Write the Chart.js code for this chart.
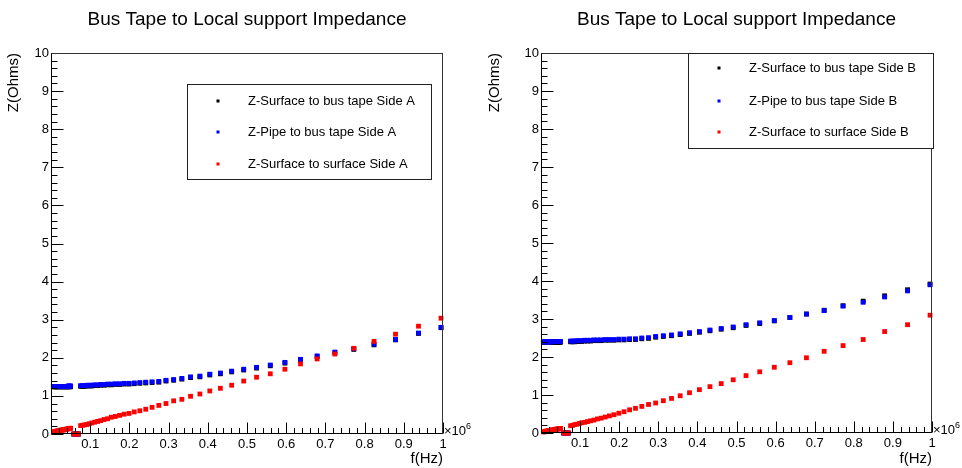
<!DOCTYPE html>
<html>
<head>
<meta charset="utf-8">
<script src="https://cdn.jsdelivr.net/npm/chart.js@4.4.0/dist/chart.umd.min.js"></script>
<style>
  html, body { margin: 0; padding: 0; background: #fff; }
  #wrap { position: relative; width: 962px; height: 468px; }
  .pane { position: absolute; top: 0; width: 481px; height: 468px; }
</style>
</head>
<body>
<div id="wrap">
  <div class="pane" style="left:0"><canvas id="chartA" width="481" height="468"></canvas></div>
  <div class="pane" style="left:481px"><canvas id="chartB" width="481" height="468"></canvas></div>
</div>
<script>
const chartTitle = 'Bus Tape to Local support Impedance';
const xTitle = 'f(Hz)';
const yTitle = 'Z(Ohms)';

// frequency points, in units of 10^6 Hz
const freqMHz = [
  0.006, 0.008, 0.010, 0.012, 0.014, 0.016, 0.018, 0.020, 0.022, 0.024, 0.026, 0.028,
  0.030, 0.032, 0.034, 0.036, 0.038, 0.040, 0.042, 0.044, 0.046, 0.048, 0.050,
  0.058, 0.062, 0.066, 0.070,
  0.0756, 0.0807, 0.0860, 0.0918, 0.0979, 0.1044, 0.1114, 0.1188, 0.1267, 0.1352,
  0.1442, 0.1538, 0.1641, 0.1750, 0.1867, 0.1991, 0.2124, 0.2266, 0.2417, 0.2578,
  0.2750, 0.2933, 0.3129, 0.3338, 0.3560, 0.3798, 0.4051, 0.4321, 0.4609, 0.4916,
  0.5244, 0.5594, 0.5967, 0.6365, 0.6789, 0.7242, 0.7725, 0.8240, 0.8789, 0.9375, 0.995
];

// Side A
const surfBusA = [
  1.24, 1.24, 1.24, 1.24, 1.24, 1.24, 1.24, 1.24, 1.24, 1.24, 1.24, 1.24,
  1.24, 1.24, 1.24, 1.24, 1.24, 1.24, 1.24, 1.24, 1.24, 1.24, 1.24,
  0, 0, 0, 0,
  1.25, 1.25, 1.25, 1.26, 1.26, 1.26, 1.27, 1.27, 1.28, 1.28,
  1.29, 1.29, 1.30, 1.30, 1.31, 1.31, 1.32, 1.33, 1.34, 1.35,
  1.36, 1.39, 1.41, 1.44, 1.48, 1.50, 1.55, 1.58, 1.63, 1.68,
  1.73, 1.79, 1.86, 1.94, 2.03, 2.13, 2.22, 2.34, 2.47, 2.64, 2.79
];
const pipeBusA = [
  1.25, 1.25, 1.25, 1.25, 1.25, 1.25, 1.25, 1.25, 1.25, 1.25, 1.25, 1.25,
  1.25, 1.25, 1.25, 1.25, 1.25, 1.25, 1.25, 1.26, 1.26, 1.26, 1.26,
  0, 0, 0, 0,
  1.27, 1.27, 1.27, 1.28, 1.28, 1.28, 1.29, 1.29, 1.30, 1.30,
  1.31, 1.31, 1.32, 1.32, 1.33, 1.33, 1.34, 1.35, 1.36, 1.37,
  1.38, 1.41, 1.43, 1.46, 1.50, 1.52, 1.57, 1.60, 1.65, 1.70,
  1.75, 1.81, 1.88, 1.96, 2.05, 2.15, 2.24, 2.36, 2.48, 2.65, 2.80
];
const surfSurfA = [
  0.05, 0.06, 0.06, 0.07, 0.07, 0.08, 0.08, 0.09, 0.09, 0.10, 0.10, 0.10,
  0.11, 0.11, 0.11, 0.12, 0.12, 0.13, 0.13, 0.14, 0.14, 0.15, 0.15,
  0, 0, 0, 0,
  0.22, 0.23, 0.24, 0.25, 0.27, 0.29, 0.31, 0.33, 0.35, 0.38,
  0.40, 0.44, 0.46, 0.49, 0.52, 0.54, 0.58, 0.61, 0.65, 0.70,
  0.75, 0.80, 0.87, 0.91, 0.99, 1.05, 1.13, 1.20, 1.28, 1.39,
  1.49, 1.58, 1.70, 1.84, 1.97, 2.10, 2.25, 2.43, 2.62, 2.83, 3.04
];

// Side B
const surfBusB = [
  2.39, 2.39, 2.39, 2.39, 2.39, 2.39, 2.39, 2.39, 2.39, 2.39, 2.39, 2.39,
  2.39, 2.39, 2.39, 2.39, 2.39, 2.39, 2.39, 2.39, 2.39, 2.39, 2.39,
  0, 0, 0, 0,
  2.40, 2.40, 2.40, 2.41, 2.41, 2.41, 2.42, 2.42, 2.42, 2.43,
  2.43, 2.43, 2.44, 2.44, 2.44, 2.45, 2.45, 2.46, 2.46, 2.48,
  2.49, 2.52, 2.54, 2.56, 2.59, 2.62, 2.65, 2.69, 2.73, 2.77,
  2.83, 2.88, 2.95, 3.04, 3.13, 3.23, 3.35, 3.47, 3.61, 3.77, 3.92
];
const pipeBusB = [
  2.40, 2.40, 2.40, 2.40, 2.40, 2.40, 2.40, 2.40, 2.40, 2.40, 2.40, 2.40,
  2.41, 2.41, 2.41, 2.41, 2.41, 2.41, 2.41, 2.41, 2.41, 2.41, 2.41,
  0, 0, 0, 0,
  2.42, 2.42, 2.42, 2.43, 2.43, 2.43, 2.44, 2.44, 2.44, 2.45,
  2.45, 2.45, 2.46, 2.46, 2.46, 2.47, 2.47, 2.48, 2.48, 2.50,
  2.51, 2.54, 2.56, 2.58, 2.61, 2.64, 2.67, 2.71, 2.75, 2.79,
  2.85, 2.90, 2.96, 3.04, 3.13, 3.22, 3.34, 3.44, 3.58, 3.74, 3.90
];
const surfSurfB = [
  0.03, 0.03, 0.04, 0.04, 0.05, 0.05, 0.06, 0.06, 0.06, 0.07, 0.07, 0.08,
  0.08, 0.08, 0.09, 0.09, 0.10, 0.10, 0.10, 0.11, 0.11, 0.12, 0.12,
  0, 0, 0, 0,
  0.19, 0.20, 0.22, 0.23, 0.25, 0.27, 0.28, 0.30, 0.32, 0.34,
  0.37, 0.39, 0.42, 0.45, 0.48, 0.52, 0.56, 0.61, 0.65, 0.70,
  0.75, 0.79, 0.85, 0.91, 0.98, 1.06, 1.14, 1.22, 1.30, 1.40,
  1.51, 1.61, 1.73, 1.85, 1.98, 2.15, 2.30, 2.46, 2.67, 2.85, 3.10
];

const seriesColors = ['#000000', '#0000ff', '#ff0000'];
const namesA = ['Z-Surface to bus tape Side A', 'Z-Pipe to bus tape Side A', 'Z-Surface to surface Side A'];
const namesB = ['Z-Surface to bus tape Side B', 'Z-Pipe to bus tape Side B', 'Z-Surface to surface Side B'];

const FONT = '"Liberation Sans", Arial, Helvetica, sans-serif';

const toPoints = vals => freqMHz.map((f, i) => ({ x: f, y: vals[i] }));

// ROOT-like frame, inward ticks, title, exponent and legend box
const rootStyle = {
  id: 'rootStyle',
  afterDatasetsDraw(chart, args, opts) {
    const { ctx, chartArea: a } = chart;
    const xs = chart.scales.x, ys = chart.scales.y;
    const L = Math.round(a.left) + 0.5, R = Math.round(a.right) - 0.5;
    const T = Math.round(a.top) + 0.5, B = Math.round(a.bottom) - 0.5;
    ctx.save();
    ctx.lineWidth = 1;

    // ticks on y axis
    ctx.strokeStyle = '#000';
    ctx.beginPath();
    for (let i = 0; i <= 50; i++) {
      const py = Math.round(ys.getPixelForValue(i / 5)) + 0.5;
      const len = i % 5 === 0 ? 12 : 6;
      ctx.moveTo(L, py);
      ctx.lineTo(L + len, py);
    }
    // ticks on x axis
    for (let i = 0; i <= 50; i++) {
      const px = Math.round(xs.getPixelForValue(i / 50)) + 0.5;
      const len = i % 5 === 0 ? 11 : 5.5;
      ctx.moveTo(px, B);
      ctx.lineTo(px, B - len);
    }
    ctx.stroke();

    // frame
    ctx.strokeStyle = '#333';
    ctx.strokeRect(L, T, R - L, B - T);
    ctx.strokeStyle = '#000';
    ctx.beginPath();
    ctx.moveTo(L, T); ctx.lineTo(L, B); ctx.lineTo(R, B);
    ctx.stroke();

    // title
    ctx.fillStyle = '#000';
    ctx.font = '19px ' + FONT;
    ctx.textAlign = 'center';
    ctx.textBaseline = 'middle';
    ctx.fillText(chartTitle, (a.left + a.right) / 2, 20);

    // x10^6 exponent
    ctx.textAlign = 'left';
    ctx.textBaseline = 'alphabetic';
    ctx.font = '13px ' + FONT;
    ctx.fillText('\u00d710', a.right + 1, a.bottom + 1);
    const w = ctx.measureText('\u00d710').width;
    ctx.font = '9px ' + FONT;
    ctx.fillText('6', a.right + 1 + w, a.bottom - 5);

    // legend box
    const lg = opts.legend;
    ctx.fillStyle = '#fff';
    ctx.fillRect(lg.x, lg.y, lg.w, lg.h);
    ctx.strokeStyle = '#222';
    ctx.strokeRect(lg.x + 0.5, lg.y + 0.5, lg.w, lg.h);
    ctx.font = '13px ' + FONT;
    ctx.textBaseline = 'middle';
    chart.data.datasets.forEach((ds, i) => {
      const ry = lg.y + lg.rows[i];
      ctx.fillStyle = ds.backgroundColor;
      ctx.fillRect(lg.x + lg.markerX - 1.5, ry - 1.5, 3, 3);
      ctx.fillStyle = '#000';
      ctx.fillText(ds.label, lg.x + lg.textX, ry);
    });
    ctx.restore();
  }
};

function makeChart(id, names, series, geom) {
  return new Chart(document.getElementById(id), {
    type: 'scatter',
    data: {
      datasets: series.map((vals, i) => ({
        label: names[i],
        data: toPoints(vals),
        backgroundColor: seriesColors[i],
        borderWidth: 0,
        pointStyle: 'rect',
        pointRadius: 3.4,
        pointHoverRadius: 3.4,
        clip: false,
        order: 2 - i
      }))
    },
    options: {
      responsive: false,
      animation: false,
      events: [],
      layout: { padding: { top: 53, right: geom.padRight, left: 0, bottom: 0 } },
      plugins: {
        legend: { display: false },
        tooltip: { enabled: false },
        title: { display: false },
        rootStyle: { legend: geom.legend }
      },
      scales: {
        x: {
          type: 'linear',
          min: 0,
          max: 1,
          grid: { display: false, drawTicks: false },
          border: { display: false },
          ticks: {
            stepSize: 0.1,
            padding: 3,
            maxRotation: 0,
            color: '#000',
            font: { family: FONT, size: 13 },
            callback: v => (v === 0 ? '' : String(+v.toFixed(1)))
          },
          title: {
            display: true,
            text: xTitle,
            align: 'end',
            color: '#000',
            font: { family: FONT, size: 15 },
            padding: { top: 0, bottom: 0 }
          },
          afterFit: s => { s.height = geom.xHeight; }
        },
        y: {
          type: 'linear',
          min: 0,
          max: 10,
          grid: { display: false, drawTicks: false },
          border: { display: false },
          ticks: {
            stepSize: 1,
            padding: 2,
            color: '#000',
            font: { family: FONT, size: 13 }
          },
          title: {
            display: true,
            text: yTitle,
            align: 'end',
            color: '#000',
            font: { family: FONT, size: 15 },
            padding: { top: 5, bottom: 0 }
          },
          afterFit: s => { s.width = geom.yWidth; }
        }
      }
    },
    plugins: [rootStyle]
  });
}

makeChart('chartA', namesA, [surfBusA, pipeBusA, surfSurfA], {
  yWidth: 51, xHeight: 34, padRight: 38,
  legend: { x: 187, y: 84, w: 244, h: 95, markerX: 31, textX: 61, rows: [17, 48, 80] }
});
makeChart('chartB', namesB, [surfBusB, pipeBusB, surfSurfB], {
  yWidth: 60, xHeight: 35, padRight: 30,
  legend: { x: 207, y: 53, w: 245, h: 95, markerX: 31, textX: 61, rows: [15, 48, 79] }
});
</script>
</body>
</html>
